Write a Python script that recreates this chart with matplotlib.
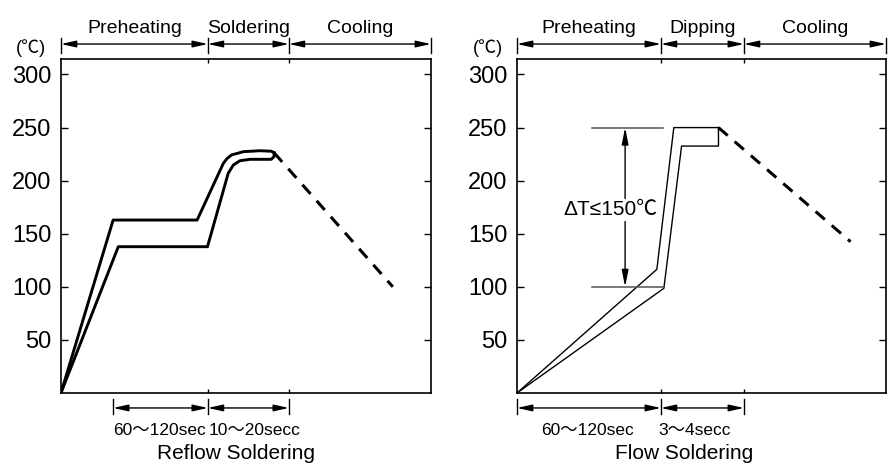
import matplotlib
matplotlib.use('Agg')
import matplotlib.pyplot as plt

plt.rcParams['font.family'] = ['Liberation Sans', 'Noto Sans CJK KR', 'DejaVu Sans']
plt.rcParams['axes.unicode_minus'] = False

# y axis
temp_ticks = [50, 100, 150, 200, 250, 300]
y_top = 314.6

# ---- Reflow soldering (time axis in arbitrary units 0..100)
reflow_stages = ['Preheating', 'Soldering', 'Cooling']
reflow_bounds = [0, 39.7, 61.6, 100]
reflow_up_t = [0, 14.1, 36.8, 43.9, 44.9, 46.1, 49.3, 53.8, 56.9, 57.6]
reflow_up_T = [0, 162.9, 162.9, 216.4, 220.9, 224.2, 227.3, 228.2, 227.7, 226.3]
reflow_lo_t = [0, 15.5, 39.6, 45.2, 46.6, 48.4, 51.1, 56.8, 57.6, 57.6]
reflow_lo_T = [0, 137.8, 137.8, 206.9, 214.8, 218.8, 220.1, 220.1, 222.6, 226.3]
reflow_cool_t = [57.6, 89.7]
reflow_cool_T = [226.3, 100]
reflow_spans = [14.1, 39.7, 61.6]
reflow_span_labels = ['60～120sec', '10～20secc']

# ---- Flow soldering
flow_stages = ['Preheating', 'Dipping', 'Cooling']
flow_bounds = [0, 39.0, 61.5, 100]
flow_up_t = [0, 37.9, 42.5, 54.6]
flow_up_T = [0, 116.5, 250, 250]
flow_lo_t = [0, 39.8, 44.6, 54.6, 54.6]
flow_lo_T = [0, 98.6, 232.6, 232.6, 250]
flow_cool_t = [54.6, 90.4]
flow_cool_T = [250, 142.5]
flow_spans = [0, 39.0, 61.5]
flow_span_labels = ['60～120sec', '3～4secc']
dT_hi, dT_lo = 250, 100


def frame(ax, bounds, stages, spans, span_labels, span_x, span_ha, title, title_x):
    ax.set_xlim(0, 100)
    ax.set_ylim(0, y_top)
    ax.set_yticks(temp_ticks)
    ax.set_xticks(bounds[1:-1])
    ax.tick_params(axis='y', direction='in', length=5, width=1, right=True,
                   labelsize=17, pad=7)
    ax.tick_params(axis='x', direction='in', length=3, width=1, top=True,
                   labelbottom=False)
    for s in ax.spines.values():
        s.set_linewidth(1.2)

    # stage arrows above the frame
    ya = 328.7
    for x in bounds:
        ax.plot([x, x], [320, 334.7], color='k', lw=1, clip_on=False)
    for i, name in enumerate(stages):
        ax.annotate('', xy=(bounds[i + 1], ya), xytext=(bounds[i], ya),
                    arrowprops=dict(arrowstyle='<|-|>,head_length=0.9,head_width=0.2',
                                    color='k', lw=1, mutation_scale=10,
                                    shrinkA=0, shrinkB=0),
                    annotation_clip=False)
        ax.text((bounds[i] + bounds[i + 1]) / 2, 338.8, name, ha='center',
                va='baseline', fontsize=14)
    ax.text(-8, 325, '(℃)', ha='center', va='center', fontsize=13)

    # time spans below the frame
    yb = -14.1
    for x in spans:
        ax.plot([x, x], [-6, -20], color='k', lw=1, clip_on=False)
    for i, lab in enumerate(span_labels):
        ax.annotate('', xy=(spans[i + 1], yb), xytext=(spans[i], yb),
                    arrowprops=dict(arrowstyle='<|-|>,head_length=0.9,head_width=0.2',
                                    color='k', lw=1, mutation_scale=10,
                                    shrinkA=0, shrinkB=0),
                    annotation_clip=False)
        ax.text(span_x[i], -39.6, lab, ha=span_ha[i], va='baseline', fontsize=12.5)
    ax.text(title_x, -62.5, title, ha='center', va='baseline', fontsize=15)


fig = plt.figure(figsize=(8.9, 4.72), dpi=100)
ax1 = fig.add_axes([0.0685, 0.1674, 0.4157, 0.7076])
ax2 = fig.add_axes([0.5809, 0.1674, 0.4146, 0.7076])

# Reflow
frame(ax1, reflow_bounds, reflow_stages, reflow_spans, reflow_span_labels,
      [14.0, 39.9], ['left', 'left'], 'Reflow Soldering', 47.2)
ax1.plot(reflow_up_t, reflow_up_T, color='k', lw=2.1, solid_joinstyle='round')
ax1.plot(reflow_lo_t, reflow_lo_T, color='k', lw=2.1, solid_joinstyle='round')
ax1.plot(reflow_cool_t, reflow_cool_T, color='k', lw=2.2, dashes=(4, 3))

# Flow
frame(ax2, flow_bounds, flow_stages, flow_spans, flow_span_labels,
      [19.1, 38.2], ['center', 'left'], 'Flow Soldering', 45.2)
ax2.plot(flow_up_t, flow_up_T, color='k', lw=1)
ax2.plot(flow_lo_t, flow_lo_T, color='k', lw=1)
ax2.plot(flow_cool_t, flow_cool_T, color='k', lw=2.2, dashes=(4, 3))
ax2.plot([20.3, 39.6], [dT_hi, dT_hi], color='#555555', lw=1.1)
ax2.plot([20.3, 39.6], [dT_lo, dT_lo], color='#555555', lw=1.1)
ax2.annotate('', xy=(29.3, dT_lo), xytext=(29.3, dT_hi),
             arrowprops=dict(arrowstyle='<|-|>,head_length=1.0,head_width=0.2',
                             color='k', lw=1, mutation_scale=10,
                             shrinkA=0, shrinkB=0))
ax2.text(25.2, 172.4, 'ΔT≤150℃', ha='center', va='center', fontsize=15,
         bbox=dict(facecolor='white', edgecolor='none', pad=1))

fig.savefig('out.png', dpi=100)
